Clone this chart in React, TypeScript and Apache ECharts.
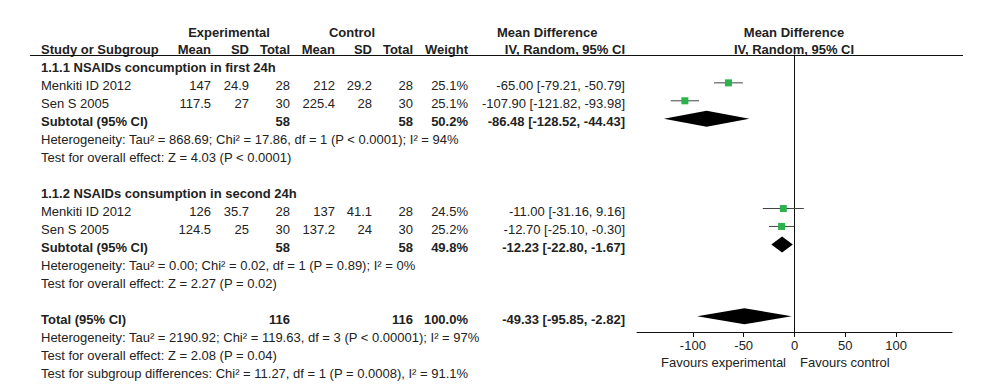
import React, { useEffect, useRef } from "react";
import * as echarts from "echarts";

// ---------- data ----------
const subgroupTitles = ["1.1.1 NSAIDs concumption in first 24h", "1.1.2 NSAIDs consumption in second 24h"];
const studyNames = ["Menkiti ID 2012", "Sen S 2005", "Menkiti ID 2012", "Sen S 2005"];
const studyGroup = [0, 0, 1, 1];
const expMean = [147, 117.5, 126, 124.5];
const expSD = [24.9, 27, 35.7, 25];
const expN = [28, 30, 28, 30];
const ctlMean = [212, 225.4, 137, 137.2];
const ctlSD = [29.2, 28, 41.1, 24];
const ctlN = [28, 30, 28, 30];
const studyWeight = [25.1, 25.1, 24.5, 25.2];
const studyMD = [-65.0, -107.9, -11.0, -12.7];
const studyLo = [-79.21, -121.82, -31.16, -25.1];
const studyHi = [-50.79, -93.98, 9.16, -0.3];

const subExpN = [58, 58];
const subCtlN = [58, 58];
const subWeight = [50.2, 49.8];
const subMD = [-86.48, -12.23];
const subLo = [-128.52, -22.8];
const subHi = [-44.43, -1.67];
const subHet = [
  "Heterogeneity: Tau\u00b2 = 868.69; Chi\u00b2 = 17.86, df = 1 (P < 0.0001); I\u00b2 = 94%",
  "Heterogeneity: Tau\u00b2 = 0.00; Chi\u00b2 = 0.02, df = 1 (P = 0.89); I\u00b2 = 0%",
];
const subTest = ["Test for overall effect: Z = 4.03 (P < 0.0001)", "Test for overall effect: Z = 2.27 (P = 0.02)"];

const totExpN = 116;
const totCtlN = 116;
const totWeight = 100.0;
const totMD = -49.33;
const totLo = -95.85;
const totHi = -2.82;
const totalNotes = [
  "Heterogeneity: Tau\u00b2 = 2190.92; Chi\u00b2 = 119.63, df = 3 (P < 0.00001); I\u00b2 = 97%",
  "Test for overall effect: Z = 2.08 (P = 0.04)",
  "Test for subgroup differences: Chi\u00b2 = 11.27, df = 1 (P = 0.0008), I\u00b2 = 91.1%",
];
const tickValues = [-100, -50, 0, 50, 100];
const favourLeft = "Favours experimental";
const favourRight = "Favours control";

// ---------- layout ----------
const FONT = "'Liberation Sans', Arial, sans-serif";
const FS = 13;
const ROW0 = 32;
const ROWH = 17.95;
const MARK_SHIFT = 3;
const rowY = (r: number) => ROW0 + ROWH * r;
const COLOR = "#222";

// row indices
const groupStart = [2, 9];
const totalRow = 16;

export default function App() {
  const ref = useRef<HTMLDivElement>(null);
  useEffect(() => {
    document.body.style.margin = "0";
    const chart = echarts.init(ref.current!, undefined, { renderer: "svg" });

    const texts: any[] = [];
    const t = (x: number, r: number, s: string, align: string = "left", bold = false) => {
      texts.push({
        type: "text",
        x,
        y: rowY(r),
        style: {
          text: s,
          fill: COLOR,
          font: `${bold ? "bold " : ""}${FS}px ${FONT}`,
          align,
          verticalAlign: "middle",
        },
      });
    };

    // column right edges
    const cx = { label: 41, em: 211, esd: 249, en: 290, cm: 335, csd: 372, cn: 413, w: 468, md: 625 };
    // headers
    t(229, 0, "Experimental", "center", true);
    t(352, 0, "Control", "center", true);
    t(497, 0, "Mean Difference", "left", true);
    t(794, 0, "Mean Difference", "center", true);
    t(cx.label, 1, "Study or Subgroup", "left", true);
    t(cx.em, 1, "Mean", "right", true);
    t(cx.esd, 1, "SD", "right", true);
    t(cx.en, 1, "Total", "right", true);
    t(cx.cm, 1, "Mean", "right", true);
    t(cx.csd, 1, "SD", "right", true);
    t(cx.cn, 1, "Total", "right", true);
    t(cx.w, 1, "Weight", "right", true);
    t(cx.md, 1, "IV, Random, 95% CI", "right", true);
    t(794, 1, "IV, Random, 95% CI", "center", true);

    const ci = (m: number, l: number, h: number) => `${m.toFixed(2)} [${l.toFixed(2)}, ${h.toFixed(2)}]`;

    const markData: any[] = [];
    for (let g = 0; g < 2; g++) {
      const r0 = groupStart[g];
      t(cx.label, r0, subgroupTitles[g], "left", true);
      let k = 0;
      for (let i = 0; i < studyNames.length; i++) {
        if (studyGroup[i] !== g) continue;
        const r = r0 + 1 + k;
        k++;
        t(cx.label, r, studyNames[i]);
        t(cx.em, r, String(expMean[i]), "right");
        t(cx.esd, r, String(expSD[i]), "right");
        t(cx.en, r, String(expN[i]), "right");
        t(cx.cm, r, String(ctlMean[i]), "right");
        t(cx.csd, r, String(ctlSD[i]), "right");
        t(cx.cn, r, String(ctlN[i]), "right");
        t(cx.w, r, studyWeight[i].toFixed(1) + "%", "right");
        t(cx.md, r, ci(studyMD[i], studyLo[i], studyHi[i]), "right");
        markData.push([0, studyMD[i], studyLo[i], studyHi[i], r, studyWeight[i]]);
      }
      const rs = r0 + 1 + k;
      t(cx.label, rs, "Subtotal (95% CI)", "left", true);
      t(cx.en, rs, String(subExpN[g]), "right", true);
      t(cx.cn, rs, String(subCtlN[g]), "right", true);
      t(cx.w, rs, subWeight[g].toFixed(1) + "%", "right", true);
      t(cx.md, rs, ci(subMD[g], subLo[g], subHi[g]), "right", true);
      markData.push([1, subMD[g], subLo[g], subHi[g], rs, subWeight[g]]);
      t(cx.label, rs + 1, subHet[g]);
      t(cx.label, rs + 2, subTest[g]);
    }
    t(cx.label, totalRow, "Total (95% CI)", "left", true);
    t(cx.en, totalRow, String(totExpN), "right", true);
    t(cx.cn, totalRow, String(totCtlN), "right", true);
    t(cx.w, totalRow, totWeight.toFixed(1) + "%", "right", true);
    t(cx.md, totalRow, ci(totMD, totLo, totHi), "right", true);
    markData.push([1, totMD, totLo, totHi, totalRow, totWeight]);
    totalNotes.forEach((s, i) => t(cx.label, totalRow + 1 + i, s));

    // favours labels
    texts.push({
      type: "text", x: 786, y: 362,
      style: { text: favourLeft, fill: COLOR, font: `${FS}px ${FONT}`, align: "right", verticalAlign: "middle" },
    });
    texts.push({
      type: "text", x: 800, y: 362,
      style: { text: favourRight, fill: COLOR, font: `${FS}px ${FONT}`, align: "left", verticalAlign: "middle" },
    });
    // header rule
    texts.push({
      type: "line",
      shape: { x1: 30, y1: 55.5, x2: 963, y2: 55.5 },
      style: { stroke: "#111", lineWidth: 1 },
    });

    const gridTop = 55;
    const gridBottom = 332;
    const yMin = (gridTop - (ROW0 - MARK_SHIFT)) / ROWH;
    const yMax = (gridBottom - (ROW0 - MARK_SHIFT)) / ROWH;

    chart.setOption({
      animation: false,
      grid: { left: 637, right: 48, top: gridTop, bottom: 387 - gridBottom },
      xAxis: {
        type: "value",
        min: -155,
        max: 155,
        axisLine: { onZero: false, lineStyle: { color: "#111", width: 1 } },
        axisTick: { show: true, length: 5, customValues: tickValues, lineStyle: { color: "#111" } },
        axisLabel: {
          customValues: tickValues,
          margin: 7,
          color: COLOR,
          fontSize: FS,
          fontFamily: FONT,
        },
        splitLine: { show: false },
      },
      yAxis: {
        type: "value",
        inverse: true,
        min: yMin,
        max: yMax,
        axisLine: { show: true, onZero: true, lineStyle: { color: "#111", width: 1 } },
        axisTick: { show: false },
        axisLabel: { show: false },
        splitLine: { show: false },
      },
      graphic: texts,
      series: [
        {
          type: "custom",
          coordinateSystem: "cartesian2d",
          encode: { x: [1, 2, 3], y: 4 },
          data: markData,
          renderItem: (params: any, api: any) => {
            const kind = api.value(0);
            const m = api.value(1), l = api.value(2), h = api.value(3), r = api.value(4), w = api.value(5);
            const c = api.coord([m, r]);
            const pl = api.coord([l, r]);
            const ph = api.coord([h, r]);
            if (kind === 0) {
              const s = 1.4 * Math.sqrt(w);
              return {
                type: "group",
                children: [
                  {
                    type: "line",
                    shape: { x1: pl[0], y1: c[1], x2: ph[0], y2: c[1] },
                    style: { stroke: "#444", lineWidth: 1 },
                  },
                  {
                    type: "rect",
                    shape: { x: c[0] - s / 2, y: c[1] - s / 2, width: s, height: s },
                    style: { fill: "#2bb24c" },
                  },
                ],
              };
            }
            const hh = 8;
            return {
              type: "polygon",
              shape: { points: [[pl[0], c[1]], [c[0], c[1] - hh], [ph[0], c[1]], [c[0], c[1] + hh]] },
              style: { fill: "#000" },
            };
          },
        },
      ],
    });
    return () => chart.dispose();
  }, []);
  return <div ref={ref} style={{ width: 1000, height: 387 }} />;
}
